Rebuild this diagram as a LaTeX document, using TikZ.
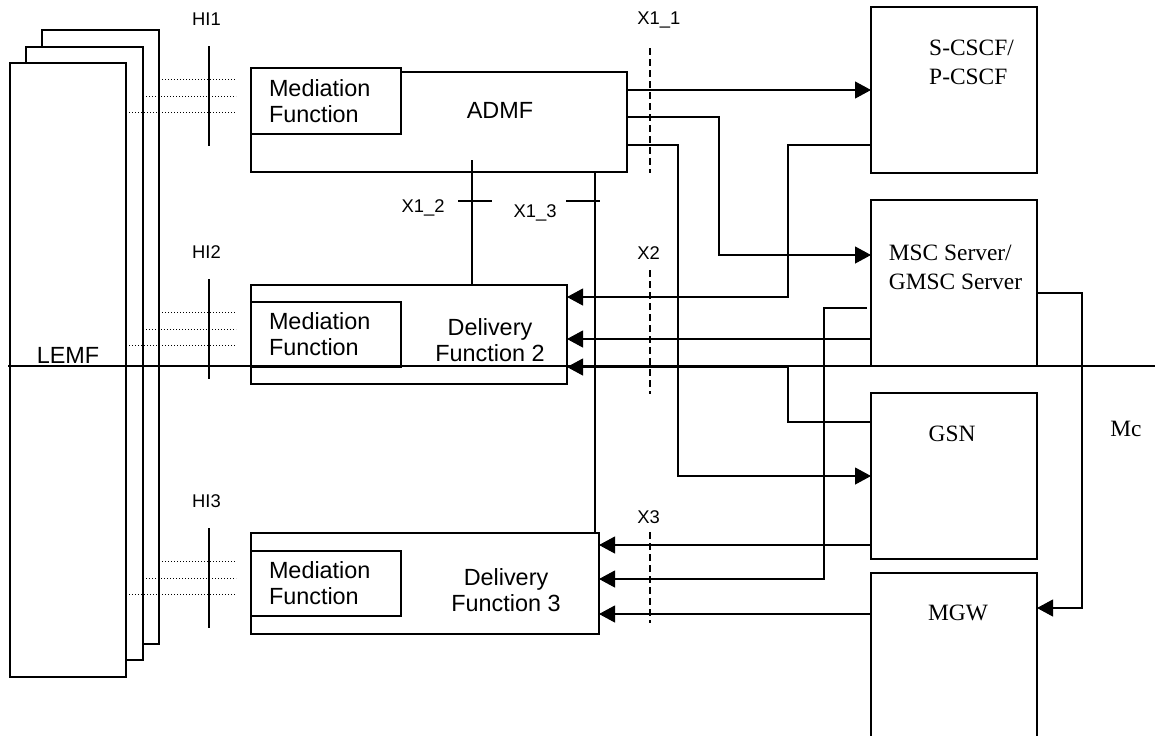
\documentclass[tikz,border=0pt]{standalone}
\usepackage{fontspec}
\setmainfont{Liberation Serif}
\newfontfamily\arialfont{Liberation Sans}
\usetikzlibrary{positioning,calc,arrows.meta}

\tikzset{
    blockbox/.style={draw, line width=0.8pt, fill=white, inner sep=0pt, outer sep=0pt},
    medbox/.style={blockbox, sansbig, align=left, text width=57pt, inner xsep=9pt, minimum height=32.5pt},
    sansbig/.style={font=\arialfont\fontsize{11.7}{13}\selectfont},
    serifbig/.style={font=\fontsize{11.7}{14.5}\selectfont},
    lbl/.style={font=\arialfont\fontsize{9.2}{11}\selectfont, inner sep=0pt},
    conn/.style={line width=0.55pt},
    arrconn/.style={conn, -{Triangle[length=8pt, width=8.5pt]}},
    hibar/.style={line width=1.2pt},
    hidot/.style={line width=0.5pt, dash pattern=on 0.6pt off 0.9pt},
    refline/.style={line width=0.65pt, dash pattern=on 3.5pt off 2pt},
    tickmark/.style={line width=0.9pt}
}

\begin{document}
\begin{tikzpicture}[x=0.5pt, y=-0.5pt]
    \useasboundingbox (0,0) rectangle (1155,735);

    % LEMF stack
    \node [blockbox, minimum width=58.5pt, minimum height=307pt] (lemfc) at (100.5,337) {};
    \node [blockbox, minimum width=58.5pt, minimum height=306.5pt] (lemfb) at (84.5,353.5) {};
    \node [blockbox, minimum width=58pt, minimum height=307pt,
           label={[sansbig, yshift=7.5pt]center:LEMF}] (lemf) at (68,370) {};

    % ADMF and delivery functions
    \node [blockbox, minimum width=188pt, minimum height=50pt,
           label={[sansbig, xshift=30.5pt, yshift=6pt]center:ADMF}] (admf) at (439,122) {};
    \node [medbox, minimum height=33pt] (med1) at (326,101) {Mediation\\Function};
    \node [blockbox, minimum width=158pt, minimum height=49.5pt,
           label={[sansbig, align=center, xshift=40.5pt, yshift=-2.75pt]center:Delivery\\Function 2}] (df2) at (409,334.5) {};
    \node [medbox] (med2) at (326,334.5) {Mediation\\Function};
    \node [blockbox, minimum width=174pt, minimum height=50.5pt,
           label={[sansbig, align=center, xshift=40.5pt, yshift=-3.25pt]center:Delivery\\Function 3}] (df3) at (425,583.5) {};
    \node [medbox] (med3) at (326,583.5) {Mediation\\Function};

    % network nodes
    \node [blockbox, minimum size=83pt,
           label={[serifbig, align=left, xshift=8.75pt, yshift=14pt]center:S-CSCF/\\P-CSCF}] (scscf) at (954,90) {};
    \node [blockbox, minimum size=83pt,
           label={[serifbig, align=left, xshift=0.75pt, yshift=7.75pt]center:MSC Server/\\GMSC Server}] (msc) at (954,283) {};
    \node [blockbox, minimum size=83pt,
           label={[serifbig, xshift=-1pt, yshift=21pt]center:GSN}] (gsn) at (954,476) {};
    \node [blockbox, minimum size=83pt,
           label={[serifbig, xshift=2pt, yshift=21.5pt]center:MGW}] (mgw) at (954,656) {};

    % HI interfaces
    \foreach \n/\c in {1/96, 2/329, 3/578} {
        \coordinate (hic\n) at (209,\c);
        \node [lbl] (hi\n) at (206.5,\c-77) {HI\n};
        \draw [hibar] ($(hic\n)+(0,-50)$) -- ($(hic\n)+(0,50)$);
        \draw [hidot] ($(lemfc.east |- hic\n)+(0,-16.5)$) -- ($(hic\n)+(27,-16.5)$);
        \draw [hidot] (lemfb.east |- hic\n) -- ($(hic\n)+(27,0)$);
        \draw [hidot] ($(lemf.east |- hic\n)+(0,16.5)$) -- ($(hic\n)+(27,16.5)$);
    }

    % X interfaces
    \node [lbl, anchor=west] (xoneone) at (637,20) {X1\_1};
    \draw [refline] (650,48) -- (650,173);
    \node [lbl, anchor=west] (xtwo) at (637,253) {X2};
    \draw [refline] (650,270) -- (650,394);
    \node [lbl, anchor=west] (xthree) at (637,517) {X3};
    \draw [refline] (650,532) -- (650,623);

    % ADMF to delivery functions
    \draw [conn] ($(admf.south)+(33,-12)$) -- ($(df2.north)+(63,0)$);
    \draw [conn] ($(admf.south)+(156,0)$) -- ($(df3.north)+(170,0)$);
    \draw [tickmark] (458,201) -- (492,201);
    \draw [tickmark] (566,201) -- (600,201);
    \node [lbl] (xonetwo) at (423,208) {X1\_2};
    \node [lbl] (xonethree) at (535,213) {X1\_3};

    % X1_1 from ADMF
    \draw [arrconn] (admf.east |- scscf.west) -- (scscf.west);
    \draw [arrconn] ($(admf.east)+(0,-5)$) -| ($(msc.west)+(-152,-28)$) -- ($(msc.west)+(0,-28)$);
    \draw [arrconn] ($(admf.east)+(0,23)$) -| ($(gsn.west)+(-193,0)$) -- (gsn.west);

    % X2 to delivery function 2
    \draw [arrconn] ($(scscf.west)+(0,55)$) -| ($(df2.east)+(221,-37.5)$) -- ($(df2.east)+(0,-37.5)$);
    \draw [arrconn] ($(msc.west)+(0,56)$) -- ($(df2.east)+(0,4.5)$);
    \draw [arrconn] ($(gsn.west)+(0,-54)$) -| ($(df2.east)+(221,32.5)$) -- ($(df2.east)+(0,32.5)$);

    % X3 to delivery function 3
    \draw [arrconn] ($(gsn.west)+(0,69)$) -- ($(df3.east)+(0,-38.5)$);
    \draw [arrconn] ($(msc.west)+(-4,25)$) -| ($(df3.east)+(225,-4.5)$) -- ($(df3.east)+(0,-4.5)$);
    \draw [arrconn] ($(mgw.west)+(0,-42)$) -- ($(df3.east)+(0,30.5)$);

    % Mc
    \draw [arrconn] ($(msc.east)+(0,10)$) -| ($(mgw.east)+(45,-48)$) -- ($(mgw.east)+(0,-48)$);
    \node [serifbig] (mc) at (1126,429) {Mc};

    \draw [conn] (8,366) -- (1155,366);
\end{tikzpicture}
\end{document}
